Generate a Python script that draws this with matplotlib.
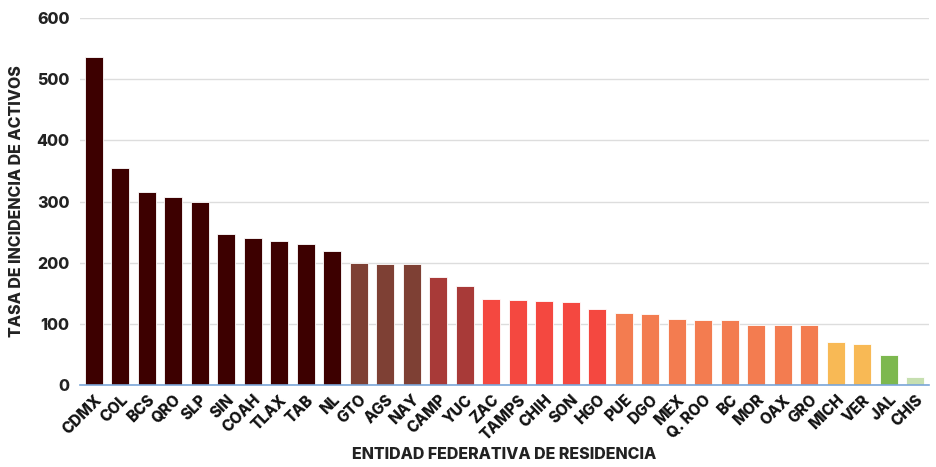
import matplotlib.pyplot as plt

plt.rcParams['font.family'] = ['Inter', 'DejaVu Sans']

estados = ['CDMX', 'COL', 'BCS', 'QRO', 'SLP', 'SIN', 'COAH', 'TLAX', 'TAB', 'NL',
           'GTO', 'AGS', 'NAY', 'CAMP', 'YUC', 'ZAC', 'TAMPS', 'CHIH', 'SON', 'HGO',
           'PUE', 'DGO', 'MEX', 'Q. ROO', 'BC', 'MOR', 'OAX', 'GRO', 'MICH', 'VER',
           'JAL', 'CHIS']
tasa = [536, 355, 315, 307, 300, 247, 241, 236, 231, 220,
        199, 198, 198, 176, 162, 141, 140, 138, 136, 124,
        118, 116, 109, 107, 106, 99, 99, 98, 71, 67,
        50, 14]
# color group per state
grupo = [0] * 10 + [1] * 3 + [2] * 2 + [3] * 5 + [4] * 8 + [5] * 2 + [6] + [7]
paleta = ['#3d0000', '#7e4034', '#a83a38', '#f44840', '#f37c50', '#f8b955',
          '#7db84f', '#c6dfb0']
colores = [paleta[g] for g in grupo]

fig = plt.figure(figsize=(9.36, 4.67), dpi=100)
ax = fig.add_axes([0.086, 0.175, 0.906, 0.787])

x = range(len(estados))
ax.bar(x, tasa, width=0.68, color=colores, edgecolor='#ffffff', linewidth=0.6, zorder=3)

ax.set_ylim(0, 600)
ax.set_xlim(-0.5, 31.5)
ax.set_yticks(range(0, 601, 100))
ax.grid(axis='y', color='#dddddd', linewidth=1, zorder=0)
ax.set_xticks(list(x))
ax.set_xticklabels(estados, rotation=45, ha='right', rotation_mode='anchor',
                   fontsize=11, fontweight='heavy', color='#111111')
for lbl in ax.get_yticklabels():
    lbl.set_fontsize(11.5)
    lbl.set_fontweight('heavy')
    lbl.set_color('#222222')

for s in ['top', 'right', 'left']:
    ax.spines[s].set_visible(False)
ax.spines['bottom'].set_color('#7aa6d8')
ax.spines['bottom'].set_linewidth(1.2)
ax.spines['bottom'].set_zorder(4)
ax.tick_params(axis='both', length=0, pad=8)
ax.tick_params(axis='x', pad=5)

ax.set_ylabel('TASA DE INCIDENCIA DE ACTIVOS', fontsize=11.5, fontweight='heavy',
              color='#222222', labelpad=9)
ax.set_xlabel('ENTIDAD FEDERATIVA DE RESIDENCIA', fontsize=11.5, fontweight='heavy',
              color='#222222', labelpad=3)

fig.savefig('out.png', dpi=100)
